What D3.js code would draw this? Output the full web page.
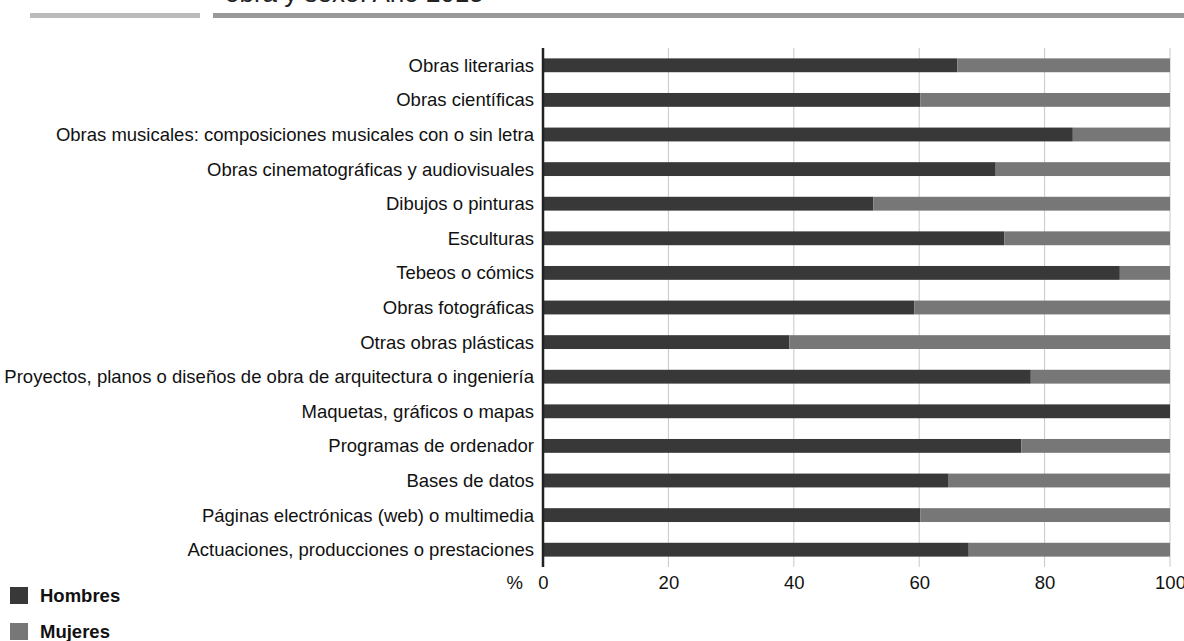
<!DOCTYPE html>
<html>
<head>
<meta charset="utf-8">
<script src="https://cdn.jsdelivr.net/npm/d3@7"></script>
<style>
  body { margin: 0; background: #fff; }
  svg { display: block; font-family: "Liberation Sans", Arial, sans-serif; }
</style>
</head>
<body>
<svg id="chart" width="1184" height="641"></svg>
<script>
// categorias (de arriba a abajo)
var categorias = [
  "Obras literarias",
  "Obras científicas",
  "Obras musicales: composiciones musicales con o sin letra",
  "Obras cinematográficas y audiovisuales",
  "Dibujos o pinturas",
  "Esculturas",
  "Tebeos o cómics",
  "Obras fotográficas",
  "Otras obras plásticas",
  "Proyectos, planos o diseños de obra de arquitectura o ingeniería",
  "Maquetas, gráficos o mapas",
  "Programas de ordenador",
  "Bases de datos",
  "Páginas electrónicas (web) o multimedia",
  "Actuaciones, producciones o prestaciones"
];
// % hombres
var hombres = [66.1, 60.2, 84.5, 72.2, 52.7, 73.6, 92.0, 59.2, 39.3, 77.8, 100, 76.3, 64.7, 60.2, 67.9];
// % mujeres
var mujeres = [33.9, 39.8, 15.5, 27.8, 47.3, 26.4, 8.0, 40.8, 60.7, 22.2, 0, 23.7, 35.3, 39.8, 32.1];
var ticks = [0, 20, 40, 60, 80, 100];
var series = ["Hombres", "Mujeres"];
var colores = ["#383838", "#777777"];

var svg = d3.select("#chart");

// cabecera (titulo cortado por arriba)
svg.append("rect").attr("x", 30).attr("y", 13).attr("width", 170).attr("height", 5).attr("fill", "#bbbbbb");
svg.append("rect").attr("x", 213).attr("y", 13).attr("width", 971).attr("height", 5).attr("fill", "#999999");
svg.append("text")
  .attr("x", 225).attr("y", 2)
  .attr("font-size", "26px")
  .attr("fill", "#222")
  .text("obra y sexo. Año 2015");

var x = d3.scaleLinear().domain([0, 100]).range([543, 1170]);
var y = d3.scaleBand().domain(categorias).range([48, 567]).paddingInner(0.6).paddingOuter(0.3);

// rejilla
svg.append("g").selectAll("line")
  .data(ticks.slice(1))
  .join("line")
  .attr("x1", function(d) { return x(d); })
  .attr("x2", function(d) { return x(d); })
  .attr("y1", 48).attr("y2", 567)
  .attr("stroke", "#c8c8c8").attr("stroke-width", 1);

var datos = categorias.map(function(c, i) {
  return { cat: c, Hombres: hombres[i], Mujeres: mujeres[i] };
});
var stack = d3.stack().keys(series)(datos);

svg.append("g").selectAll("g")
  .data(stack)
  .join("g")
  .attr("fill", function(d, i) { return colores[i]; })
  .selectAll("rect")
  .data(function(d) { return d; })
  .join("rect")
  .attr("x", function(d) { return x(d[0]); })
  .attr("width", function(d) { return x(d[1]) - x(d[0]); })
  .attr("y", function(d) { return y(d.data.cat); })
  .attr("height", y.bandwidth());

// etiquetas categorias
svg.append("g").selectAll("text")
  .data(categorias)
  .join("text")
  .attr("x", 534)
  .attr("y", function(d) { return y(d) + y.bandwidth() / 2; })
  .attr("dy", "0.35em")
  .attr("text-anchor", "end")
  .attr("font-size", "18.5px")
  .attr("fill", "#111")
  .text(function(d) { return d; });

// eje x
var xAxis = svg.append("g")
  .attr("transform", "translate(0,567)")
  .call(d3.axisBottom(x).tickValues(ticks).tickSize(0).tickPadding(9));
xAxis.select(".domain").remove();
xAxis.selectAll("text").attr("font-size", "18.5px").attr("fill", "#111")
  .attr("font-family", "\"Liberation Sans\", Arial, sans-serif");

svg.append("text").attr("x", 523).attr("y", 583).attr("dy", "0.35em").attr("text-anchor", "end")
  .attr("font-size", "18.5px").attr("fill", "#111").text("%");

// eje vertical
svg.append("line").attr("x1", x(0)).attr("x2", x(0)).attr("y1", 48).attr("y2", 567)
  .attr("stroke", "#222").attr("stroke-width", 2.5);

// leyenda
var ley = svg.append("g").selectAll("g")
  .data(series)
  .join("g")
  .attr("transform", function(d, i) { return "translate(10," + (587 + i * 36) + ")"; });
ley.append("rect").attr("width", 18).attr("height", 17)
  .attr("fill", function(d, i) { return colores[i]; });
ley.append("text").attr("x", 30).attr("y", 9).attr("dy", "0.35em")
  .attr("font-size", "18.5px").attr("font-weight", "bold").attr("fill", "#111")
  .text(function(d) { return d; });
</script>
</body>
</html>
